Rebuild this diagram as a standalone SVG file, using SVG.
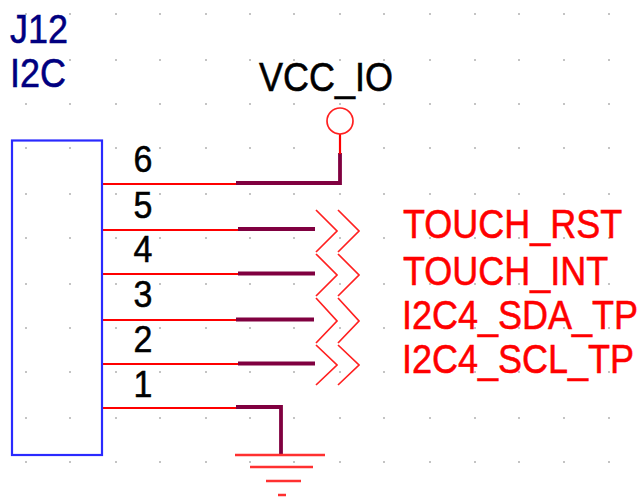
<svg xmlns="http://www.w3.org/2000/svg" width="639" height="497" viewBox="0 0 639 497">
<style>
text{font-family:"Liberation Sans",Arial,sans-serif;font-size:36px;stroke-width:0.5}
.lbl{fill:#ff0000;stroke:#ff0000}
.ref{fill:#000080;stroke:#000080}
.blk{fill:#000;stroke:#000}
.num{fill:#000;stroke:#000;font-size:34px}
.pin{stroke:#ff0000;stroke-width:2.2;fill:none}
.wire{stroke:#800040;stroke-width:3.8;fill:none}
.red{stroke:#ff2020;stroke-width:1.7;fill:none}
.gnd{stroke:#ff3030;stroke-width:2.4;fill:none}
.dot{fill:#c4c4c4}
</style>
<defs>
<g id="row">
<rect x="25" y="-1" width="2" height="2" class="dot"/><rect x="69" y="-1" width="2" height="2" class="dot"/><rect x="115" y="-1" width="2" height="2" class="dot"/><rect x="159" y="-1" width="2" height="2" class="dot"/><rect x="205" y="-1" width="2" height="2" class="dot"/><rect x="249" y="-1" width="2" height="2" class="dot"/><rect x="293" y="-1" width="2" height="2" class="dot"/><rect x="339" y="-1" width="2" height="2" class="dot"/><rect x="383" y="-1" width="2" height="2" class="dot"/><rect x="429" y="-1" width="2" height="2" class="dot"/><rect x="474" y="-1" width="2" height="2" class="dot"/><rect x="518" y="-1" width="2" height="2" class="dot"/><rect x="563" y="-1" width="2" height="2" class="dot"/><rect x="608" y="-1" width="2" height="2" class="dot"/>
</g>
</defs>
<rect width="639" height="497" fill="#fff"/>
<g id="grid">
<use href="#row" y="14"/><use href="#row" y="60"/><use href="#row" y="104"/><use href="#row" y="148"/><use href="#row" y="194"/><use href="#row" y="238"/><use href="#row" y="284"/><use href="#row" y="328"/><use href="#row" y="372"/><use href="#row" y="418"/><use href="#row" y="462"/>
</g>
<g id="connectors">
<path class="pin" d="M102 184H236M102 230H238M102 274H238M102 320H236M102 364H238M102 408H236"/>
<path class="wire" d="M236 183H340V153"/>
<path class="wire" d="M238 229H315M238 273.500H315M236 319.500H314M238 363.500H315"/>
<path class="wire" d="M236 407H281V455"/>
<path class="pin" d="M340 134V154"/>
</g>
<g id="J12">
<rect x="12" y="140.500" width="90" height="314.500" fill="none" stroke="#2a2aff" stroke-width="2.200"/>
<text class="ref" transform="translate(10 43) scale(1 1.11)">J12</text>
<text class="ref" transform="translate(10 87) scale(1 1.11)">I2C</text>
<text class="num" transform="translate(133.500 172) scale(1 1.11)">6</text>
<text class="num" transform="translate(133.500 218) scale(1 1.11)">5</text>
<text class="num" transform="translate(133.500 262) scale(1 1.11)">4</text>
<text class="num" transform="translate(133.500 307) scale(1 1.11)">3</text>
<text class="num" transform="translate(133.500 352) scale(1 1.11)">2</text>
<text class="num" transform="translate(133.500 397) scale(1 1.11)">1</text>
</g>
<g id="VCC_IO">
<circle cx="340" cy="121" r="13" class="red"/>
<text class="blk" transform="translate(259 90.500) scale(1 1.11)">VCC_IO</text>
</g>
<g id="GND">
<path class="gnd" d="M235 455H325M250 467H313M266 481H301M278 495H286"/>
</g>
<g id="TOUCH_RST">
<path class="red" d="M316 210L337 231L316 252M338 210L359 231L338 252"/>
<text class="lbl" transform="translate(403 238) scale(1 1.11)">TOUCH_RST</text>
</g>
<g id="TOUCH_INT">
<path class="red" d="M316 254L337 275L316 296M338 254L359 275L338 296"/>
<text class="lbl" transform="translate(403 285) scale(1 1.11)">TOUCH_INT</text>
</g>
<g id="I2C4_SDA_TP">
<path class="red" d="M316 298L337 321L316 343M338 298L359 321L338 343"/>
<text class="lbl" transform="translate(402 329) scale(1 1.11)">I2C4_SDA_TP</text>
</g>
<g id="I2C4_SCL_TP">
<path class="red" d="M316 345L337 365L316 385M338 345L359 365L338 385"/>
<text class="lbl" transform="translate(402 373) scale(1 1.11)">I2C4_SCL_TP</text>
</g>
</svg>
